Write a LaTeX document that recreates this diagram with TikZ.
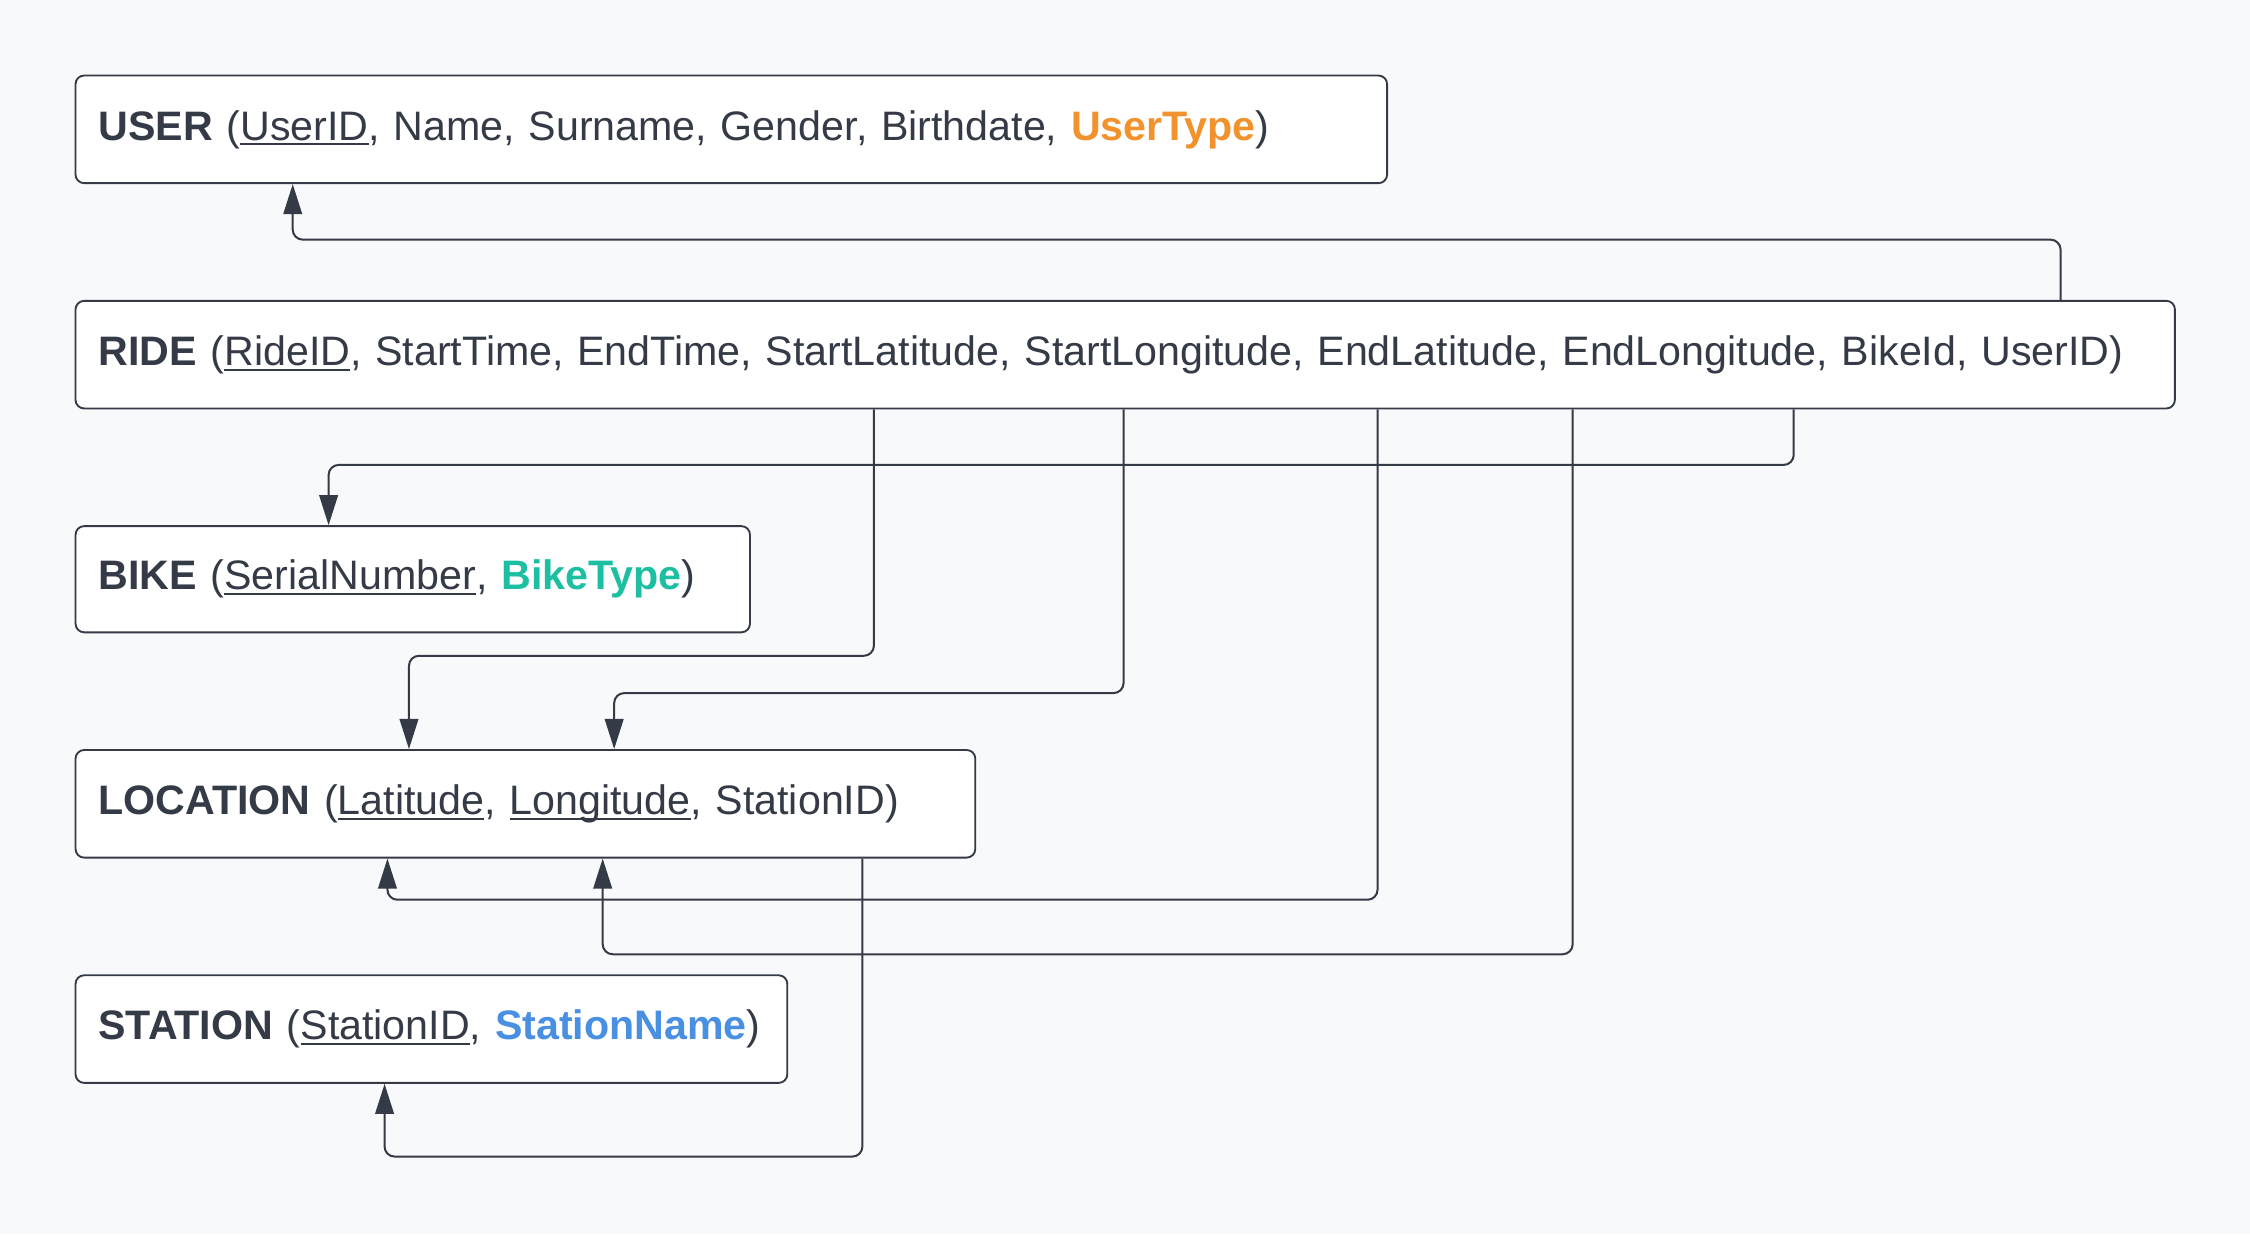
\documentclass[tikz,border=0pt]{standalone}
\usepackage{fontspec}
\setmainfont{Liberation Sans}
\usetikzlibrary{arrows.meta}
\definecolor{bg}{HTML}{F8F9FB}
\definecolor{dark}{HTML}{343B46}
\definecolor{ora}{HTML}{F2922D}
\definecolor{teal}{HTML}{1CBFA2}
\definecolor{blu}{HTML}{4A90E2}
\newcommand\ulx[1]{\setbox0=\hbox{#1}\rlap{\rule[-0.13em]{\wd0}{1.5pt}}\box0}
\begin{document}
\begin{tikzpicture}[x=1pt,y=-1pt,
  entity/.style={draw=dark, line width=1.3pt, fill=white, rounded corners=6pt,
    anchor=north west, inner xsep=16pt, inner ysep=0pt, align=left,
    text=dark, font=\fontsize{28.7}{34}\selectfont},
  conn/.style={draw=dark, line width=1.4pt, rounded corners=7pt,
    -{Triangle[length=21pt,width=13pt]}}]
\fill[bg] (0,0) rectangle (1568,860);
\useasboundingbox (0,0) rectangle (1568,860);

\node[entity, text width=882pt, minimum height=75pt] (user) at (52,52)
  {\textbf{USER} (\ulx{UserID}, Name, Surname, Gender, Birthdate, \textcolor{ora}{\textbf{UserType}})};
\node[entity, text width=1431pt, minimum height=75pt] (ride) at (52,209)
  {\textbf{RIDE} (\ulx{RideID}, StartTime, EndTime, StartLatitude, StartLongitude, EndLatitude, EndLongitude, BikeId, UserID)};
\node[entity, text width=438pt, minimum height=74pt] (bike) at (52,366)
  {\textbf{BIKE} (\ulx{SerialNumber}, \textcolor{teal}{\textbf{BikeType}})};
\node[entity, text width=595pt, minimum height=75pt] (loc) at (52,522)
  {\textbf{LOCATION} (\ulx{Latitude}, \ulx{Longitude}, StationID)};
\node[entity, text width=464pt, minimum height=75pt] (sta) at (52,679)
  {\textbf{STATION} (\ulx{StationID}, \textcolor{blu}{\textbf{StationName}})};

% lane corner points
\coordinate (a1) at (1436,167); \coordinate (a2) at (204,167);
\coordinate (b1) at (1250,324); \coordinate (b2) at (229,324);
\coordinate (c1) at (609,457);  \coordinate (c2) at (285,457);
\coordinate (d1) at (783,483);  \coordinate (d2) at (428,483);
\coordinate (e1) at (960,627);  \coordinate (e2) at (270,627);
\coordinate (f1) at (1096,665); \coordinate (f2) at (420,665);
\coordinate (g1) at (601,806);  \coordinate (g2) at (268,806);

\draw[conn] (ride.north -| a1) -- (a1) -- (a2) -- (user.south -| a2);
\draw[conn] (ride.south -| b1) -- (b1) -- (b2) -- (bike.north -| b2);
\draw[conn] (ride.south -| c1) -- (c1) -- (c2) -- (loc.north -| c2);
\draw[conn] (ride.south -| d1) -- (d1) -- (d2) -- (loc.north -| d2);
\draw[conn] (ride.south -| e1) -- (e1) -- (e2) -- (loc.south -| e2);
\draw[conn] (ride.south -| f1) -- (f1) -- (f2) -- (loc.south -| f2);
\draw[conn] (loc.south -| g1) -- (g1) -- (g2) -- (sta.south -| g2);
\end{tikzpicture}
\end{document}
